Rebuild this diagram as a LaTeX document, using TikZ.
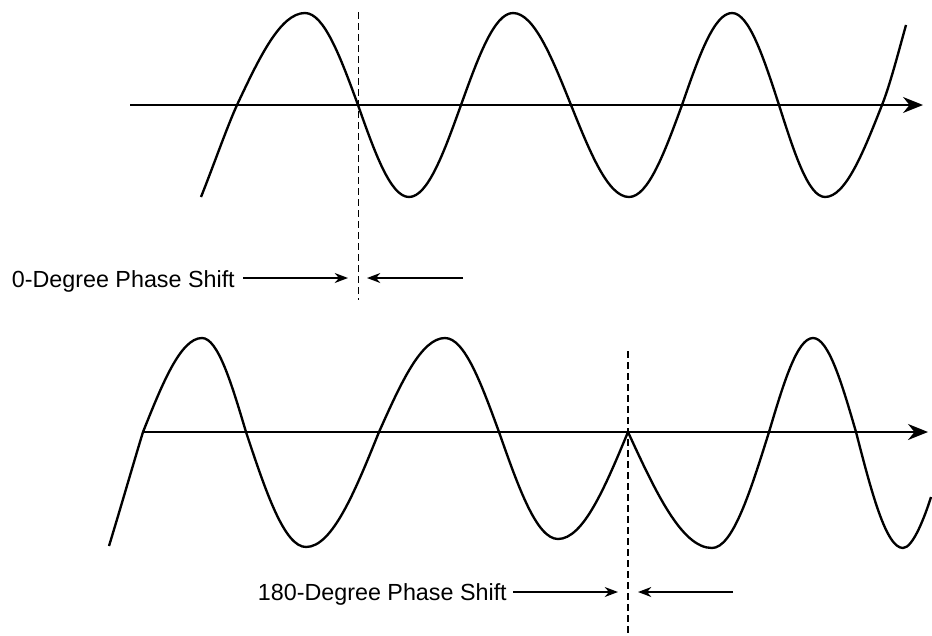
\documentclass[tikz,border=0pt]{standalone}
\usepackage{fontspec}
\setmainfont{Liberation Sans}
\usepackage{tikz}
\usetikzlibrary{arrows.meta}

\begin{document}
\begin{tikzpicture}[
    x=0.03cm, y=-0.03cm,
    wave/.style={line width=2pt, line join=round},
    axis/.style={line width=1.6pt, -{Stealth[length=0.6cm, width=0.48cm]}},
    guide/.style={line width=1.5pt, dash pattern=on 6pt off 3.4pt},
    pointer/.style={line width=1.4pt, -{Stealth[length=0.4cm, width=0.3cm]}},
    every node/.style={font=\fontsize{19.9pt}{24pt}\selectfont, inner sep=0pt}
]
\useasboundingbox (0,0) rectangle (932,635);

\draw[axis] (130,105) -- (923,105);
\draw[wave] (201,197) .. controls (213,167) and (227,127) .. (237,105)
    sin (305,13) cos (358,105) sin (409,197) cos (461,105)
    sin (513,13) cos (571,105) sin (629,197) cos (682,105)
    sin (732,13) cos (779,105) sin (825,197) cos (882,105)
    .. controls (890,85) and (899,50) .. (906,25);
\draw[guide] (358.5,12) -- (358.5,300);

\draw[axis] (143,432) -- (928,432);
\draw[wave] (109,546) .. controls (120,510) and (135,458) .. (143,432)
    sin (202,338) cos (246,432) sin (306,547) cos (379,432)
    sin (445,338) cos (499,432) sin (558,539) cos (628,432)
    sin (712,548) cos (769,432) sin (813,338) cos (856,432)
    sin (903,548) .. controls (913,548) and (925,516) .. (931,497);
\draw[guide] (628,351) -- (628,635);

\node[anchor=base east] (lblzero) at (235,287) {0-Degree Phase Shift};
\coordinate (zerotip) at (348,278);
\coordinate (zerotail) at (463,278);
\coordinate (zerohead) at (367,278);
\draw[pointer, shorten <=0.24cm] (lblzero.east |- zerotip) -- (zerotip);
\draw[pointer] (zerotail) -- (zerohead);

\node[anchor=base east] (lblhalf) at (507,600) {180-Degree Phase Shift};
\coordinate (halftip) at (618,592);
\coordinate (halftail) at (733,592);
\coordinate (halfhead) at (638,592);
\draw[pointer, shorten <=0.18cm] (lblhalf.east |- halftip) -- (halftip);
\draw[pointer] (halftail) -- (halfhead);
\end{tikzpicture}
\end{document}
